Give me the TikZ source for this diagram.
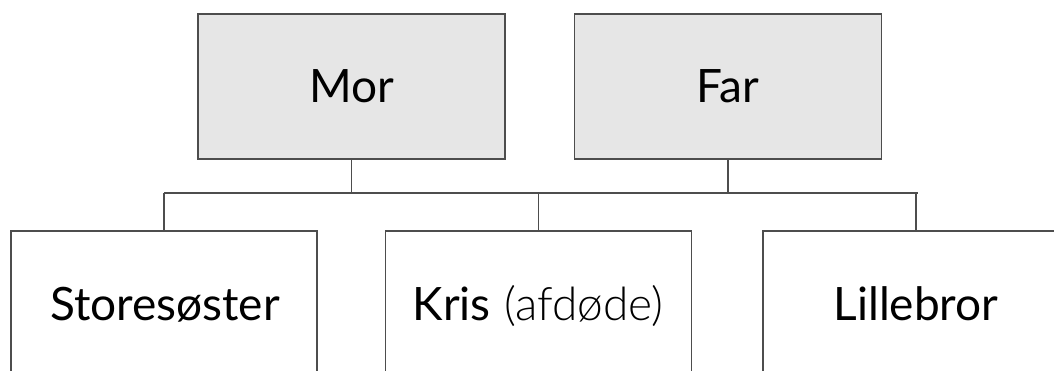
\documentclass[tikz,border=0pt]{standalone}
\usepackage{fontspec}
\setmainfont{Lato}
\newfontfamily\latolight{Lato Light}
\definecolor{edge}{HTML}{4D4D4D}
\definecolor{parentfill}{HTML}{E6E6E6}
\begin{document}
\begin{tikzpicture}[x=1pt,y=-1pt,
  parentbox/.style={draw=edge,line width=1.5pt,fill=parentfill,minimum width=307pt,minimum height=145pt,inner sep=0pt,font=\fontsize{46}{50}\selectfont},
  childbox/.style={draw=edge,line width=1.5pt,fill=white,minimum width=306pt,minimum height=200pt,inner sep=0pt},
  childtext/.style={anchor=base,inner sep=0pt,font=\fontsize{46}{50}\selectfont},
  link/.style={draw=edge,line width=1.5pt}]
\useasboundingbox (0,0) rectangle (1054,370);
\node[parentbox] (mor) at (351.5,86.5) {Mor};
\node[parentbox] (far) at (728,86.5) {Far};
\node[childbox] (s1) at (164,331) {};
\node[childbox] (s2) at (538.5,331) {};
\node[childbox] (s3) at (916,331) {};
\node[childtext] (t1) at (165,320) {Storesøster};
\node[childtext] (t2) at (538,320) {Kris\hspace{0.3em}{\latolight (afdøde)}};
\node[childtext] (t3) at (916,320) {Lillebror};
\coordinate (busL) at (164,193);
\coordinate (busR) at (918,193);
\draw[link] (mor.south) -- (mor.south |- busL);
\draw[link] (far.south) -- (far.south |- busL);
\draw[link] (busL) -- (busR);
\draw[link] (s1.north) -- (s1.north |- busL);
\draw[link] (s2.north) -- (s2.north |- busL);
\draw[link] (s3.north) -- (s3.north |- busL);
\end{tikzpicture}
\end{document}
